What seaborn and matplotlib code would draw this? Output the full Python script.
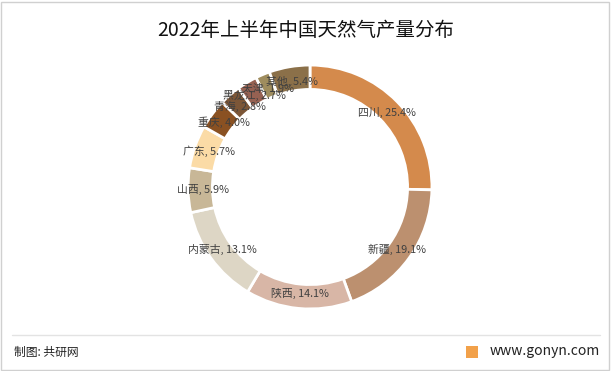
import numpy as np
import pandas as pd
import matplotlib
matplotlib.use('Agg')
import matplotlib.pyplot as plt
from matplotlib.patches import Rectangle
from matplotlib.lines import Line2D
import seaborn as sns

provinces = ['四川', '新疆', '陕西', '内蒙古', '山西', '广东', '重庆', '青海', '黑龙江', '天津', '其他']
shares = [25.4, 19.1, 14.1, 13.1, 5.9, 5.7, 4.0, 2.8, 2.7, 1.9, 5.4]
colors = ['#D48A4C', '#BC906F', '#D8B6A6', '#DDD6C5', '#C8B797', '#FBDBA6',
          '#8A5122', '#7C5637', '#956152', '#9F8D5E', '#8B7049']

sns.set_theme(style='white')
plt.rcParams['font.family'] = ['Noto Sans CJK SC', 'DejaVu Sans']

df = pd.DataFrame({'province': provinces, 'share': shares})

W, H = 611, 371
fig = plt.figure(figsize=(W / 100, H / 100), dpi=100)
fig.patch.set_facecolor('white')

# frame + footer line
fig.add_artist(Rectangle((1 / W, 1 / H), (W - 3) / W, (H - 3) / H, transform=fig.transFigure,
                         fill=False, edgecolor='#D0D0D0', linewidth=1))
fig.add_artist(Line2D([12 / W, 600 / W], [1 - 335 / H, 1 - 335 / H], transform=fig.transFigure,
                      color='#E3E3E3', linewidth=1))

cx, cy, half = 310, 187, 125
ax = fig.add_axes([(cx - half) / W, 1 - (cy + half) / H, 2 * half / W, 2 * half / H])
labels = [f'{p}, {s}%' for p, s in zip(df['province'], df['share'])]
wedges, texts = ax.pie(df['share'], colors=colors, startangle=90, counterclock=False,
                       labels=labels, labeldistance=0.88,
                       wedgeprops=dict(width=0.2, edgecolor='white', linewidth=2),
                       textprops=dict(fontsize=7.8, color='#404040'))
for t in texts:
    t.set_horizontalalignment('center')
    t.set_verticalalignment('center')
ax.set_xlim(-1.025, 1.025)
ax.set_ylim(-1.025, 1.025)
ax.set_aspect('equal')
ax.axis('off')

fig.text(306 / W, 1 - 30 / H, '2022年上半年中国天然气产量分布', ha='center', va='center',
         fontsize=14, color='#111111')
fig.text(14 / W, 1 - 352 / H, '制图: 共研网', ha='left', va='center', fontsize=8.5, color='#222222')
fig.add_artist(Rectangle((466 / W, 1 - 358 / H), 12 / W, 12 / H, transform=fig.transFigure,
                         facecolor='#F2A14A', edgecolor='none'))
fig.text(600 / W, 1 - 351 / H, 'www.gonyn.com', ha='right', va='center', fontsize=10, color='#222222')

fig.savefig('out.png', dpi=100)
